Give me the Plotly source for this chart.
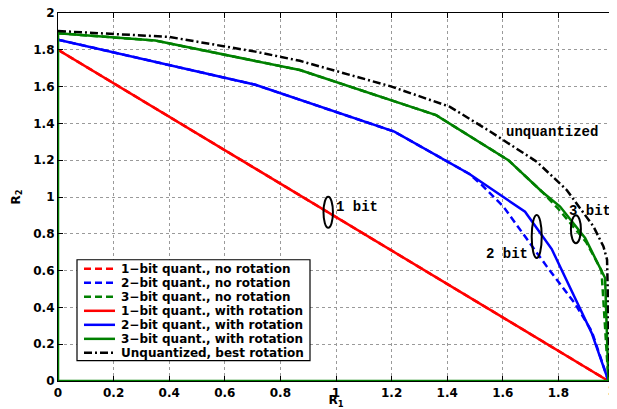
import plotly.graph_objects as go

# ---------------- data ----------------
red_x = [0, 1.98]
red_y = [1.8, 0]

blue_solid_x = [0, 0.71, 1.21, 1.48, 1.68, 1.776, 1.92, 1.98]
blue_solid_y = [1.855, 1.61, 1.355, 1.125, 0.92, 0.717, 0.26, 0]
blue_dash_x = [0, 0.71, 1.21, 1.48, 1.524, 1.602, 1.758, 1.86, 1.92, 1.98]
blue_dash_y = [1.855, 1.61, 1.355, 1.125, 1.066, 0.948, 0.623, 0.42, 0.27, 0]

green_solid_x = [0, 0, 0.35, 0.87, 1.36, 1.62, 1.74, 1.806, 1.896, 1.968, 1.98, 0]
green_solid_y = [0, 1.89, 1.85, 1.69, 1.445, 1.20, 1.03, 0.948, 0.777, 0.56, 0, 0]
green_dash_x = [0, 0.35, 0.87, 1.36, 1.62, 1.74, 1.80, 1.85, 1.90, 1.955, 1.98]
green_dash_y = [1.89, 1.85, 1.69, 1.445, 1.20, 1.03, 0.935, 0.845, 0.755, 0.60, 0]

black_x = [0, 0.4, 0.71, 0.87, 1.2, 1.41, 1.55, 1.722, 1.83, 1.926, 1.962, 1.975, 1.985]
black_y = [1.902, 1.87, 1.79, 1.74, 1.6, 1.49, 1.36, 1.192, 1.038, 0.84, 0.731, 0.66, 0]

legend_names = [
    "1\u2212bit quant., no rotation",
    "2\u2212bit quant., no rotation",
    "3\u2212bit quant., no rotation",
    "1\u2212bit quant., with rotation",
    "2\u2212bit quant., with rotation",
    "3\u2212bit quant., with rotation",
    "Unquantized, best rotation",
]
tick_vals = [0, 0.2, 0.4, 0.6, 0.8, 1, 1.2, 1.4, 1.6, 1.8, 2]
tick_text = ["0", "0.2", "0.4", "0.6", "0.8", "1", "1.2", "1.4", "1.6", "1.8", "2"]

# ---------------- styles ----------------
RED, BLUE, GREEN, BLACK = "#ff0000", "#0000ff", "#008000", "#000000"
LW = 2.5
DASH = "7px,4px"
DASHDOT = "8px,3px,2px,3px"
FONT = "DejaVu Sans, Verdana, sans-serif"
MONO = "Liberation Mono, Courier New, monospace"

series = [
    (red_x, red_y, RED, DASH),
    (blue_dash_x, blue_dash_y, BLUE, DASH),
    (green_dash_x, green_dash_y, GREEN, DASH),
    (red_x, red_y, RED, "solid"),
    (blue_solid_x, blue_solid_y, BLUE, "solid"),
    (green_solid_x, green_solid_y, GREEN, "solid"),
    (black_x, black_y, BLACK, DASHDOT),
]

fig = go.Figure()
for (xs, ys, col, dash), name in zip(series, legend_names):
    fig.add_trace(go.Scatter(x=xs, y=ys, mode="lines", name=name,
                             line=dict(color=col, width=LW, dash=dash),
                             showlegend=False))

OFF = 8  # page body margin
W, H = 617 - OFF + 4, 409 - OFF
ML, MR, MT, MB = 58 - OFF, 7, 12.7 - OFF, 27.5
PW, PH = W - ML - MR, H - MT - MB


def px(xs):
    """screen x pixel -> paper x"""
    return (xs - OFF - ML) / PW


def py(ys):
    """screen y pixel -> paper y"""
    return (H - MB - (ys - OFF)) / PH


shapes = []
annotations = []

# compact legend box as in the reference
shapes.append(dict(type="rect", xref="paper", yref="paper",
                   x0=px(77), x1=px(310), y0=py(361), y1=py(260),
                   line=dict(color="black", width=1.2), fillcolor="white",
                   layer="above"))
row0, rowgap = 269, 14.05
for i, ((xs, ys, col, dash), name) in enumerate(zip(series, legend_names)):
    yr = row0 + i * rowgap
    shapes.append(dict(type="line", xref="paper", yref="paper",
                       x0=px(84), x1=px(115), y0=py(yr), y1=py(yr),
                       line=dict(color=col, width=LW, dash=dash), layer="above"))
    annotations.append(dict(x=px(119), y=py(yr), xref="paper", yref="paper",
                            text="<b>" + name + "</b>", showarrow=False,
                            xanchor="left", yanchor="middle",
                            font=dict(family=FONT, size=12, color="black")))

# text labels and ellipses
for txt, ax, ay in [("unquantized", 1.777, 1.353), ("1 bit", 1.077, 0.945),
                    ("2 bit", 1.616, 0.691), ("3 bit", 1.912, 0.925)]:
    annotations.append(dict(x=ax, y=ay, xref="x", yref="y", text="<b>" + txt + "</b>",
                            showarrow=False, xanchor="center", yanchor="middle",
                            font=dict(family=MONO, size=14, color="black")))
for cx, cy, hw, hh in [(0.972, 0.917, 0.017, 0.084), (1.722, 0.785, 0.018, 0.117),
                       (1.863, 0.825, 0.018, 0.076)]:
    shapes.append(dict(type="circle", xref="x", yref="y",
                       x0=cx - hw, x1=cx + hw, y0=cy - hh, y1=cy + hh,
                       line=dict(color="black", width=2)))

# last x tick label ("2") drawn as an annotation at its tick, since the axis
# hides a label that touches the page edge
annotations.append(dict(x=tick_vals[-1], y=py(391.5), xref="x", yref="paper",
                        text="<b>" + tick_text[-1] + "</b>", showarrow=False,
                        xanchor="center", yanchor="middle", xshift=-2,
                        font=dict(family=FONT, size=12, color="black")))

axis_common = dict(range=[0, 2], tickvals=tick_vals,
                   showgrid=True, gridcolor="#9a9a9a", griddash="dot", gridwidth=1,
                   zeroline=False, showline=True, linecolor="black", linewidth=1.2,
                   mirror="ticks", ticks="inside", ticklen=5, tickcolor="black",
                   tickfont=dict(family=FONT, size=12, color="black"),
                   ticklabeloverflow="allow", automargin=False)

x_ticktext = ["<b>" + t + "</b>" for t in tick_text[:-1]] + [""]
y_ticktext = ["<b>" + t + "</b>" for t in tick_text]

fig.update_layout(
    width=W, height=H,
    margin=dict(l=ML, r=MR, t=MT, b=MB),
    paper_bgcolor="white", plot_bgcolor="white",
    xaxis=dict(**axis_common, ticktext=x_ticktext,
               title=dict(text="<b>R<sub>1</sub></b>", standoff=5,
                          font=dict(family=FONT, size=12, color="black"))),
    yaxis=dict(**axis_common, ticktext=y_ticktext,
               title=dict(text="<b>R<sub>2</sub></b>", standoff=10,
                          font=dict(family=FONT, size=12, color="black"))),
    shapes=shapes,
    annotations=annotations,
    showlegend=False,
)

fig.write_html("out.html")
